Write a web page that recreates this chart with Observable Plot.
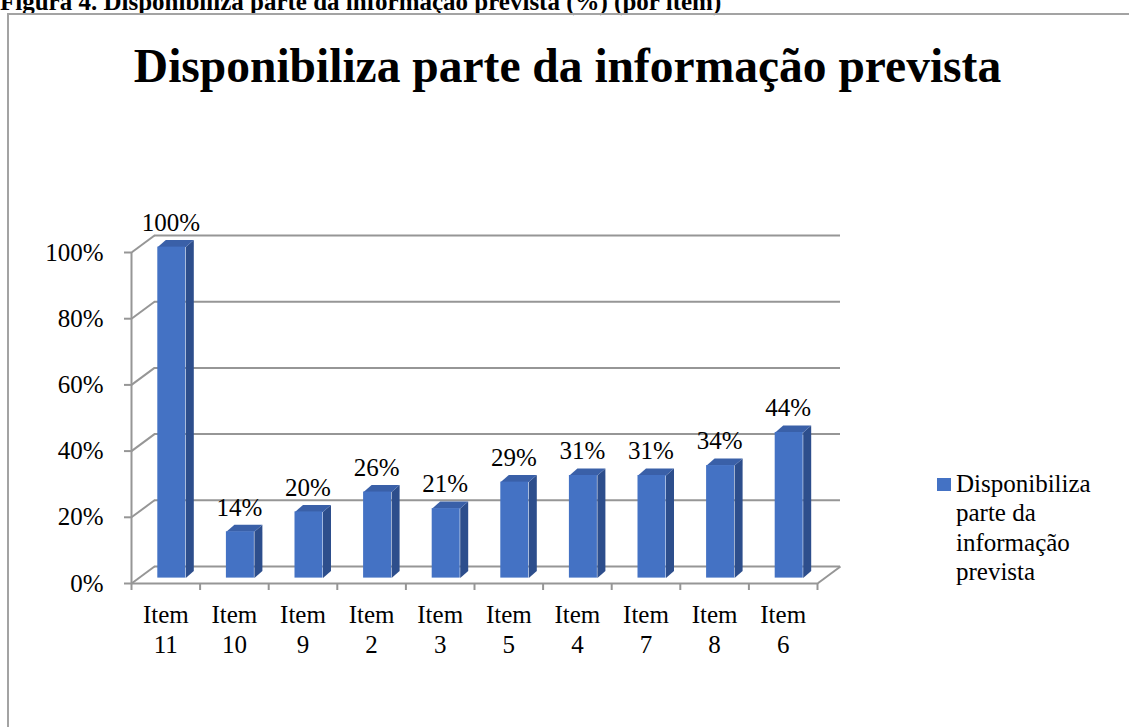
<!DOCTYPE html>
<html><head><meta charset="utf-8">
<script src="https://cdn.jsdelivr.net/npm/d3@7"></script>
<script src="https://cdn.jsdelivr.net/npm/@observablehq/plot@0.6"></script>
<style>
html,body{margin:0;padding:0;background:#fff;}
body{width:1129px;height:727px;overflow:hidden;position:relative;font-family:"Liberation Serif","Times New Roman",serif;color:#000;}
#heading{position:absolute;left:0;top:-11.5px;font-size:25px;line-height:25px;font-weight:bold;white-space:nowrap;}
#frame{position:absolute;left:7px;top:13px;width:1140px;height:740px;border:2px solid #a3a3a3;box-sizing:border-box;}
#title{position:absolute;left:0;width:1135px;top:43px;text-align:center;font-size:47.5px;line-height:47px;font-weight:bold;white-space:nowrap;}
#chart{position:absolute;left:0;top:0;}
#legend{position:absolute;left:937px;top:468.5px;}
#legend .sw{position:absolute;left:0;top:9px;width:13.5px;height:13.5px;background:#4472C4;}
#legend .lt{position:absolute;left:19px;top:0;font-family:"Liberation Serif","Times New Roman",serif;font-size:25px;line-height:29.5px;white-space:nowrap;}
</style></head><body>
<div id="heading">Figura 4. Disponibiliza parte da informação prevista (%) (por item)</div>
<div id="frame"></div>
<div id="title"></div>
<div id="chart"></div>
<div id="legend"><span class="sw"></span><div class="lt"></div></div>
<script>
// ---- data ----
const categories = ["Item 11","Item 10","Item 9","Item 2","Item 3","Item 5","Item 4","Item 7","Item 8","Item 6"];
const values = [100,14,20,26,21,29,31,31,34,44];
const yTicks = [0,20,40,60,80,100];
const seriesName = "Disponibiliza parte da informação prevista";
const legendLines = ["Disponibiliza","parte da","informação","prevista"];

document.getElementById("title").textContent = seriesName;
document.querySelector("#legend .lt").innerHTML = legendLines.join("<br>");

// ---- layout / 3D projection constants (pixels) ----
const W = 1129, H = 727;
const mL = 131, mR = 312, mT = 252, mB = 144;
const pxX = (W - mL - mR) / categories.length;   // px per category
const pxY = (H - mT - mB) / 100;                  // px per percent
const wallDX = 23, wallDY = 17;                   // depth of walls
const kx = wallDX / pxX, ky = wallDY / pxY;
const frontDX = 6, frontDY = 5.4;                 // bar front face offset
const barHalf = 14 / pxX;                         // half bar width (data units)
const depthX = 8 / pxX, depthY = 7 / pxY;         // bar depth (data units)

const rows = categories.map((c, i) => ({cat: c, i, v: values[i], x1: i + 0.5 - barHalf, x2: i + 0.5 + barHalf}));
const sideFaces = rows.flatMap(r => [
  {id: r.i, x: r.x2, y: 0}, {id: r.i, x: r.x2, y: r.v},
  {id: r.i, x: r.x2 + depthX, y: r.v + depthY}, {id: r.i, x: r.x2 + depthX, y: depthY}
]);
const topFaces = rows.flatMap(r => [
  {id: r.i, x: r.x1, y: r.v}, {id: r.i, x: r.x2, y: r.v},
  {id: r.i, x: r.x2 + depthX, y: r.v + depthY}, {id: r.i, x: r.x1 + depthX, y: r.v + depthY}
]);

const gray = "#969696";
const n = categories.length;

const chart = Plot.plot({
  width: W, height: H,
  marginLeft: mL, marginRight: mR, marginTop: mT, marginBottom: mB,
  x: {domain: [0, n], axis: null},
  y: {domain: [0, 100], axis: null},
  style: {fontFamily: "'Liberation Serif','Times New Roman',serif", fontSize: "25px", color: "#000", background: "transparent", overflow: "visible"},
  marks: [
    // back wall gridlines
    Plot.ruleY(yTicks, {y: d => d + ky, x1: kx, x2: n + kx, stroke: gray, strokeWidth: 2}),
    // left wall diagonals
    Plot.link(yTicks, {x1: 0, y1: d => d, x2: kx, y2: d => d + ky, stroke: gray, strokeWidth: 2}),
    // floor right diagonal
    Plot.link([0], {x1: n, y1: 0, x2: n + kx, y2: ky, stroke: gray, strokeWidth: 2}),
    // front axis lines
    Plot.ruleX([0], {y1: 0, y2: 100, stroke: gray, strokeWidth: 2}),
    Plot.ruleY([0], {x1: 0, x2: n, stroke: gray, strokeWidth: 2}),
    Plot.axisY({ticks: yTicks, tickSize: 7, tickPadding: 21, tickFormat: d => d + "%", stroke: gray, strokeWidth: 2, fill: "#000", fontSize: 25, label: null}),
    Plot.axisX({ticks: d3.range(0, n + 1), tickSize: 7, tickFormat: () => "", stroke: gray, strokeWidth: 2, label: null}),
    // bars: side, top, front
    Plot.line(sideFaces, {x: "x", y: "y", z: "id", fill: "#2D4E8C", stroke: "none", dx: frontDX, dy: -frontDY}),
    Plot.line(topFaces, {x: "x", y: "y", z: "id", fill: "#3A60A8", stroke: "none", dx: frontDX, dy: -frontDY}),
    Plot.rectY(rows, {x1: "x1", x2: "x2", y1: 0, y2: "v", fill: "#4472C4", dx: frontDX, dy: -frontDY}),
    // value labels
    Plot.text(rows, {x: r => r.i + 0.5, y: "v", text: r => r.v + "%", dx: 5, dy: -29.5, fontSize: 25, fill: "#000"}),
    // category labels
    Plot.text(rows, {x: r => r.i + 0.5, y: 0, text: r => r.cat.replace(" ", "\n"), lineAnchor: "top", dy: 19, lineHeight: 1.18, fontSize: 25, fill: "#000"})
  ]
});
document.getElementById("chart").appendChild(chart);
</script>
</body></html>
